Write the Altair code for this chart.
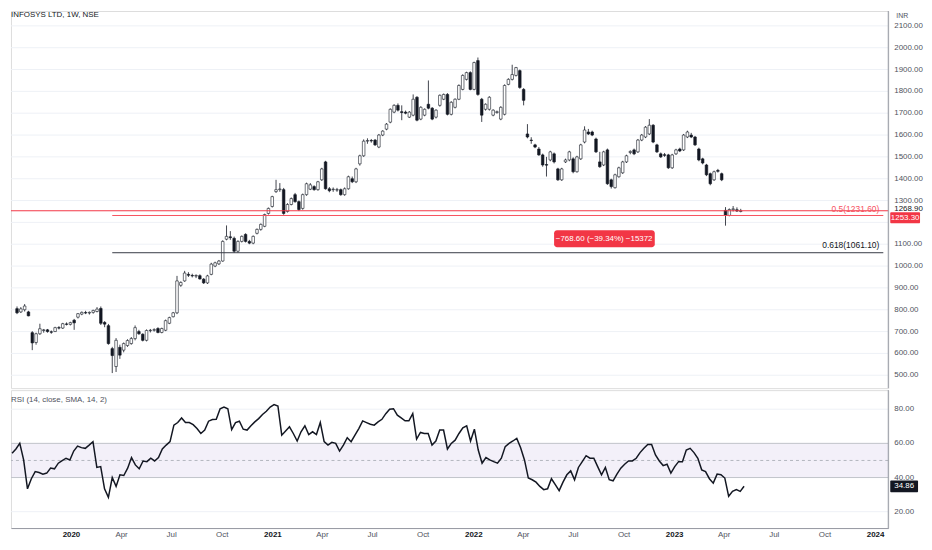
import altair as alt
import pandas as pd

# ---------------- data ----------------
start_week = "2019-09-16"
n_weeks = 191

opens = [
    805, 790, 800, 790, 695, 650, 690, 705, 708, 699,
    700, 718, 716, 735, 733, 752, 766, 780, 787, 785,
    788, 792, 806, 742, 727, 622, 540, 628, 615, 636,
    645, 668, 700, 688, 660, 704, 706, 714, 696, 706,
    738, 768, 786, 912, 932, 962, 957, 954, 956, 940,
    923, 962, 1000, 1010, 1023, 1123, 1134, 1127, 1068, 1113,
    1145, 1113, 1105, 1150, 1168, 1182, 1241, 1273, 1341, 1350,
    1350, 1250, 1282, 1327, 1295, 1264, 1327, 1352, 1364, 1350,
    1395, 1477, 1354, 1350, 1348, 1350, 1327, 1354, 1400, 1386,
    1468, 1505, 1572, 1575, 1577, 1545, 1600, 1627, 1659, 1705,
    1736, 1707, 1705, 1682, 1691, 1773, 1673, 1691, 1741, 1723,
    1682, 1736, 1764, 1786, 1695, 1727, 1764, 1809, 1855, 1886,
    1809, 1941, 1764, 1718, 1718, 1691, 1703, 1673, 1695, 1832,
    1855, 1873, 1895, 1809, 1605, 1577, 1555, 1536, 1509, 1465,
    1486, 1514, 1445, 1395, 1477, 1486, 1491, 1432, 1491, 1568,
    1614, 1614, 1582, 1477, 1463, 1532, 1395, 1359, 1409, 1427,
    1477, 1520, 1532, 1523, 1577, 1591, 1605, 1645, 1555, 1514,
    1510, 1509, 1450, 1514, 1536, 1532, 1591, 1600, 1591, 1536,
    1491, 1463, 1423, 1395, 1438, 1423, 1255, 1232, 1258, 1258,
    1250,
]
highs = [
    815, 812, 826, 795, 702, 695, 736, 712, 712, 705,
    722, 725, 740, 742, 745, 758, 785, 792, 795, 792,
    800, 812, 815, 748, 735, 630, 670, 640, 650, 665,
    675, 728, 708, 692, 710, 712, 715, 720, 718, 755,
    768, 790, 955, 930, 978, 972, 965, 962, 962, 945,
    960, 1015, 1020, 1028, 1118, 1186, 1160, 1135, 1118, 1140,
    1150, 1120, 1140, 1172, 1195, 1240, 1268, 1322, 1395, 1380,
    1358, 1288, 1314, 1335, 1300, 1332, 1382, 1380, 1370, 1390,
    1450, 1482, 1362, 1360, 1358, 1355, 1360, 1414, 1410, 1450,
    1510, 1580, 1585, 1582, 1582, 1605, 1622, 1655, 1722, 1741,
    1745, 1736, 1712, 1710, 1786, 1778, 1732, 1722, 1850, 1728,
    1718, 1786, 1790, 1792, 1755, 1768, 1832, 1878, 1890, 1892,
    1936, 1955, 1770, 1745, 1778, 1718, 1712, 1732, 1832, 1860,
    1922, 1912, 1900, 1815, 1650, 1590, 1560, 1545, 1515, 1500,
    1528, 1520, 1450, 1450, 1492, 1528, 1498, 1505, 1560, 1640,
    1628, 1620, 1588, 1523, 1528, 1538, 1400, 1423, 1455, 1482,
    1510, 1530, 1538, 1582, 1605, 1641, 1673, 1650, 1560, 1520,
    1518, 1514, 1514, 1537, 1542, 1605, 1620, 1610, 1596, 1542,
    1496, 1468, 1428, 1437, 1445, 1428, 1270, 1264, 1275, 1268.9,
    1262,
]
lows = [
    780, 785, 792, 770, 615, 640, 685, 695, 695, 690,
    698, 710, 712, 728, 728, 708, 760, 775, 780, 778,
    782, 788, 730, 720, 640, 510, 515, 575, 605, 630,
    640, 660, 685, 655, 655, 696, 700, 692, 692, 702,
    734, 765, 780, 905, 928, 950, 948, 945, 938, 918,
    918, 958, 995, 1005, 1020, 1118, 1120, 1060, 1062, 1108,
    1108, 1100, 1100, 1145, 1162, 1178, 1236, 1268, 1335, 1340,
    1235, 1245, 1278, 1290, 1252, 1258, 1322, 1348, 1345, 1345,
    1390, 1350, 1338, 1340, 1340, 1322, 1322, 1350, 1380, 1380,
    1460, 1500, 1560, 1565, 1550, 1540, 1595, 1622, 1654, 1700,
    1708, 1668, 1695, 1678, 1686, 1663, 1668, 1686, 1718, 1668,
    1676, 1730, 1760, 1690, 1690, 1722, 1760, 1805, 1850, 1805,
    1805, 1780, 1660, 1712, 1712, 1686, 1698, 1668, 1690, 1828,
    1850, 1868, 1812, 1736, 1585, 1560, 1540, 1505, 1455, 1410,
    1480, 1470, 1390, 1390, 1472, 1480, 1425, 1428, 1486, 1562,
    1600, 1595, 1518, 1450, 1458, 1372, 1355, 1355, 1405, 1422,
    1472, 1512, 1508, 1518, 1572, 1586, 1600, 1563, 1518, 1495,
    1500, 1445, 1445, 1509, 1522, 1527, 1586, 1586, 1550, 1480,
    1466, 1412, 1370, 1390, 1428, 1389, 1185, 1228, 1250, 1248,
    1246,
]
closes = [
    786, 804, 817, 772, 648, 690, 713, 708, 700, 697,
    718, 716, 736, 733, 741, 740, 782, 788, 785, 788,
    797, 803, 738, 734, 645, 590, 660, 592, 645, 659,
    668, 718, 690, 660, 705, 706, 709, 696, 714, 750,
    764, 786, 932, 925, 968, 958, 955, 957, 941, 923,
    955, 1009, 1015, 1023, 1113, 1136, 1130, 1068, 1113, 1136,
    1113, 1105, 1136, 1168, 1191, 1236, 1264, 1318, 1350, 1353,
    1241, 1282, 1309, 1295, 1259, 1327, 1377, 1372, 1350, 1386,
    1445, 1354, 1345, 1352, 1350, 1327, 1354, 1409, 1386, 1445,
    1505, 1572, 1575, 1573, 1555, 1600, 1618, 1650, 1718, 1736,
    1714, 1703, 1700, 1705, 1764, 1668, 1727, 1718, 1723, 1673,
    1714, 1782, 1786, 1695, 1750, 1764, 1827, 1873, 1886, 1809,
    1932, 1786, 1691, 1741, 1773, 1714, 1707, 1727, 1827, 1855,
    1877, 1909, 1818, 1759, 1591, 1575, 1545, 1509, 1463, 1462,
    1523, 1477, 1395, 1445, 1486, 1523, 1432, 1500, 1555, 1623,
    1605, 1600, 1523, 1455, 1523, 1377, 1364, 1418, 1450, 1477,
    1505, 1525, 1514, 1577, 1600, 1636, 1645, 1568, 1523, 1500,
    1507, 1450, 1509, 1532, 1527, 1600, 1614, 1591, 1555, 1486,
    1472, 1418, 1377, 1432, 1434, 1395, 1232, 1259, 1262, 1252,
    1253.3,
]
rsi_values = [
    54.2, 56.7, 60.0, 50.3, 33.4, 39.3, 43.5, 42.9, 42.0, 42.6,
    45.5, 45.1, 48.4, 49.9, 51.3, 50.3, 55.5, 58.4, 57.5, 57.1,
    59.0, 61.0, 45.9, 46.4, 33.4, 28.4, 40.0, 34.8, 41.6, 41.2,
    45.5, 51.7, 47.4, 45.1, 49.7, 49.3, 51.3, 49.7, 51.7, 56.7,
    59.0, 61.0, 70.7, 72.2, 74.9, 72.2, 72.2, 71.0, 68.7, 65.8,
    67.8, 73.0, 74.0, 74.1, 80.3, 81.3, 80.3, 68.1, 72.2, 73.0,
    68.3, 67.8, 70.3, 72.6, 74.5, 76.9, 78.8, 81.3, 82.7, 81.9,
    64.8, 67.2, 69.7, 65.8, 61.4, 66.8, 70.3, 65.2, 66.8, 65.2,
    72.2, 61.0, 59.0, 60.6, 60.0, 55.5, 59.0, 63.3, 61.0, 64.8,
    68.7, 73.2, 72.2, 71.2, 70.7, 72.6, 74.1, 77.4, 80.0, 80.3,
    76.5, 74.9, 73.2, 73.2, 77.4, 62.5, 66.4, 65.8, 65.8, 59.0,
    61.4, 67.8, 67.8, 56.7, 60.0, 61.9, 65.8, 69.1, 70.3, 61.4,
    68.3, 56.1, 48.4, 51.7, 50.3, 49.3, 48.4, 51.3, 58.1, 60.0,
    61.4, 62.9, 57.5, 50.3, 39.7, 38.7, 37.3, 34.8, 32.9, 33.4,
    39.3, 35.8, 32.3, 37.3, 41.6, 43.9, 38.7, 45.9, 49.3, 52.8,
    51.3, 51.3, 46.4, 41.6, 45.9, 38.7, 38.1, 42.0, 45.5, 47.8,
    49.7, 49.7, 51.3, 54.6, 57.1, 59.4, 59.4, 53.2, 49.7, 47.0,
    47.8, 42.6, 46.4, 49.3, 49.3, 56.1, 57.1, 54.6, 51.3, 44.5,
    43.5, 39.3, 36.7, 42.0, 41.6, 39.7, 29.0, 31.9, 32.9, 31.9,
    34.86,
]

price_ticks = [500, 600, 700, 800, 900, 1000, 1100, 1200, 1300, 1400,
               1500, 1600, 1700, 1800, 1900, 2000, 2100]
# 1200.00 sits under the last-price tag in the reference, so it is not labelled
price_labels = [500, 600, 700, 800, 900, 1000, 1100, 1300, 1400,
                1500, 1600, 1700, 1800, 1900, 2000, 2100]
rsi_ticks = [20, 40, 60, 80]
quarter_ticks = [(2020, 1), (2020, 4), (2020, 7), (2020, 10), (2021, 1), (2021, 4),
                 (2021, 7), (2021, 10), (2022, 1), (2022, 4), (2022, 7), (2022, 10),
                 (2023, 1), (2023, 4), (2023, 7), (2023, 10), (2024, 1)]

title_text = "INFOSYS LTD, 1W, NSE"
rsi_title = "RSI (14, close, SMA, 14, 2)"
fib_start = "2020-03-09"
fib_end = "2024-01-25"
fib_half = 1231.60
fib_618 = 1061.10
last_price = 1253.30
last_price_text = "1253.30"
high_price = 1268.90
high_price_text = "1268.90"
rsi_last = 34.86
rsi_last_text = "34.86"
measure_text = "\u2212768.60 (\u221239.34%) \u221215372"
measure_box = {"x1": "2022-05-30", "x2": "2022-12-01", "y1": 1163.7, "y2": 1086.4,
               "xm": "2022-08-30", "ym": 1125.0}

# ---------------- tables ----------------
dates = pd.date_range(start_week, periods=n_weeks, freq="7D").strftime("%Y-%m-%d").tolist()
df = pd.DataFrame({"date": dates, "open": opens, "high": highs, "low": lows,
                   "close": closes, "rsi": rsi_values})
pt_df = pd.DataFrame({"v": price_ticks})
pl_df = pd.DataFrame({"v": price_labels})
rt_df = pd.DataFrame({"v": rsi_ticks})

# ---------------- style ----------------
FONT = "Liberation Sans"
NARROW = "Liberation Sans Narrow, Liberation Sans, sans-serif"
LBL = "#50535e"
INK = "#131722"
RED = "#f23645"
AXC = "#9598a1"
GRID = "#eef1f6"
W, H1, H2 = 884, 380, 139

xscale = alt.Scale(type="utc", domain=[alt.DateTime(year=2019, month=9, date=14, utc=True),
                                       alt.DateTime(year=2024, month=1, date=25, utc=True)])
pscale = alt.Scale(domain=[441, 2168], nice=False, zero=False)
rscale = alt.Scale(domain=[10.4, 91.2], nice=False, zero=False)

top_x_axis = alt.Axis(labels=False, ticks=False, domain=True, domainColor="#d1d4dc",
                      grid=False, title=None)


def py(field):
    return alt.Y(field, scale=pscale, axis=None)


def ry(field):
    return alt.Y(field, scale=rscale, axis=None)


def tx(field, axis=None):
    return alt.X(field, scale=xscale, axis=axis)


# ---------------- top panel ----------------
p_grid = alt.Chart(pt_df).mark_rule(color=GRID, strokeWidth=1).encode(y=py("v:Q"))
p_labels = alt.Chart(pl_df).mark_text(
    align="left", baseline="middle", font=NARROW, fontSize=8, color=LBL).encode(
    x=alt.value(W + 6), y=py("v:Q"), text=alt.Text("v:Q", format=".2f"))
p_domain = alt.Chart(pt_df.head(1)).mark_rule(color=AXC, strokeWidth=1).encode(
    x=alt.value(W), y=alt.value(0), y2=alt.value(H1))

wick = alt.Chart(df).mark_rule(color=INK, strokeWidth=0.8).encode(
    x=tx("date:T", top_x_axis), y=py("low:Q"), y2="high:Q")
body = alt.Chart(df).mark_bar(size=2.6, stroke=INK, strokeWidth=0.6).encode(
    x=tx("date:T"), y=py("open:Q"), y2="close:Q",
    fill=alt.condition(alt.datum.close >= alt.datum.open, alt.value("#ffffff"), alt.value(INK)),
)

price_line = alt.Chart(pd.DataFrame({"y": [last_price]})).mark_rule(
    color=RED, strokeWidth=1).encode(y=py("y:Q"))

fib_half_df = pd.DataFrame({"s": [fib_start], "e": [fib_end], "y": [fib_half],
                            "t": ["0.5(1231.60)"]})
fib_618_df = pd.DataFrame({"s": [fib_start], "e": [fib_end], "y": [fib_618],
                           "t": ["0.618(1061.10)"]})

fib_half_line = alt.Chart(fib_half_df).mark_rule(color="#f7525f", strokeWidth=1).encode(
    x=tx("s:T"), x2="e:T", y=py("y:Q"))
fib_618_line = alt.Chart(fib_618_df).mark_rule(color="#363a45", strokeWidth=1).encode(
    x=tx("s:T"), x2="e:T", y=py("y:Q"))
fib_half_text = alt.Chart(fib_half_df).mark_text(
    align="right", baseline="bottom", dx=-4, dy=-2, font=FONT, fontSize=8.5,
    color="#f7525f").encode(x=tx("e:T"), y=py("y:Q"), text="t:N")
fib_618_text = alt.Chart(fib_618_df).mark_text(
    align="right", baseline="bottom", dx=-4, dy=-3, font=FONT, fontSize=8.5,
    color=INK).encode(x=tx("e:T"), y=py("y:Q"), text="t:N")

meas_df = pd.DataFrame({k: [v] for k, v in measure_box.items()})
meas_df["t"] = [measure_text]
meas_rect = alt.Chart(meas_df).mark_rect(color=RED, cornerRadius=3).encode(
    x=tx("x1:T"), x2="x2:T", y=py("y1:Q"), y2="y2:Q")
meas_text = alt.Chart(meas_df).mark_text(color="white", font=FONT, fontSize=8).encode(
    x=tx("xm:T"), y=py("ym:Q"), text="t:N")

lp_df = pd.DataFrame({"y1": [1246.0], "y2": [1196.0], "ym": [1221.0], "t": [last_price_text]})
lp_rect = alt.Chart(lp_df).mark_rect(color=RED, cornerRadius=1).encode(
    x=alt.value(W + 2), x2=alt.value(W + 32), y=py("y1:Q"), y2="y2:Q")
lp_text = alt.Chart(lp_df).mark_text(color="white", font=NARROW, fontSize=8).encode(
    x=alt.value(W + 17), y=py("ym:Q"), text="t:N")

hp_df = pd.DataFrame({"y": [high_price], "t": [high_price_text]})
hp_text = alt.Chart(hp_df).mark_text(align="left", baseline="middle", color=INK,
                                     font=NARROW, fontSize=8, dy=1.5).encode(
    x=alt.value(W + 6), y=py("y:Q"), text="t:N")

inr = alt.Chart(pd.DataFrame({"t": ["INR"]})).mark_text(
    align="left", baseline="top", color=LBL, font=NARROW, fontSize=7).encode(
    x=alt.value(W + 8), y=alt.value(1), text="t:N")
title = alt.Chart(pd.DataFrame({"t": [title_text]})).mark_text(
    align="left", baseline="middle", color=INK, font=FONT, fontSize=8).encode(
    x=alt.value(0), y=alt.value(4.5), text="t:N")

top = alt.layer(p_grid, wick, body, price_line, fib_half_line, fib_618_line,
                fib_half_text, fib_618_text, meas_rect, meas_text, p_labels, p_domain,
                lp_rect, lp_text, hp_text, inr, title).properties(width=W, height=H1)

# ---------------- RSI panel ----------------
bottom_x_axis = alt.Axis(
    values=[alt.DateTime(year=y, month=m, date=1, utc=True) for y, m in quarter_ticks],
    labelExpr="utcmonth(datum.value) == 0 ? utcFormat(datum.value, '%Y') : utcFormat(datum.value, '%b')",
    labelFontWeight={"condition": {"test": "utcmonth(datum.value) == 0", "value": "bold"},
                     "value": "normal"},
    labelColor={"condition": {"test": "utcmonth(datum.value) == 0", "value": INK},
                "value": LBL},
    labelFont=FONT, labelFontSize=8, labelPadding=3, labelFlush=False, labelOverlap=False,
    ticks=False, domain=True, domainColor=AXC, grid=False, title=None)

r_grid = alt.Chart(rt_df).mark_rule(color=GRID, strokeWidth=1).encode(y=ry("v:Q"))
r_labels = alt.Chart(rt_df).mark_text(
    align="left", baseline="middle", font=NARROW, fontSize=8, color=LBL).encode(
    x=alt.value(W + 6), y=ry("v:Q"), text=alt.Text("v:Q", format=".2f"))
r_domain = alt.Chart(rt_df.head(1)).mark_rule(color=AXC, strokeWidth=1).encode(
    x=alt.value(W), y=alt.value(0), y2=alt.value(H2))

band_df = pd.DataFrame({"lo": [40], "hi": [60]})
band = alt.Chart(band_df).mark_rect(color="#7e57c2", opacity=0.09).encode(
    x=alt.value(0), x2=alt.value(W), y=ry("lo:Q"), y2="hi:Q")
edges = alt.Chart(pd.DataFrame({"y": [40, 60]})).mark_rule(
    color="#c3c5cb", strokeWidth=1).encode(y=ry("y:Q"))
mid = alt.Chart(pd.DataFrame({"y": [50]})).mark_rule(
    color="#b2b5be", strokeWidth=1, strokeDash=[3, 3]).encode(y=ry("y:Q"))
rsi_line = alt.Chart(df).mark_line(color=INK, strokeWidth=1.5).encode(
    x=tx("date:T", bottom_x_axis), y=ry("rsi:Q"))
rsi_lbl = alt.Chart(pd.DataFrame({"t": [rsi_title]})).mark_text(
    align="left", baseline="middle", color=LBL, font=FONT, fontSize=8).encode(
    x=alt.value(0), y=alt.value(10), text="t:N")
rv_df = pd.DataFrame({"y1": [38.3], "y2": [31.4], "ym": [rsi_last], "t": [rsi_last_text]})
rv_rect = alt.Chart(rv_df).mark_rect(color=INK, cornerRadius=1).encode(
    x=alt.value(W + 2), x2=alt.value(W + 30), y=ry("y1:Q"), y2="y2:Q")
rv_text = alt.Chart(rv_df).mark_text(color="white", font=NARROW, fontSize=8).encode(
    x=alt.value(W + 16), y=ry("ym:Q"), text="t:N")

bottom = alt.layer(r_grid, band, edges, mid, rsi_line, rsi_lbl, r_labels, r_domain,
                   rv_rect, rv_text).properties(width=W, height=H2)

chart = alt.vconcat(top, bottom, spacing=0).properties(
    padding=0, background="white"
).configure_view(stroke=None).configure(font=FONT)

chart.save("out.html", embed_options={"renderer": "svg", "actions": False})
